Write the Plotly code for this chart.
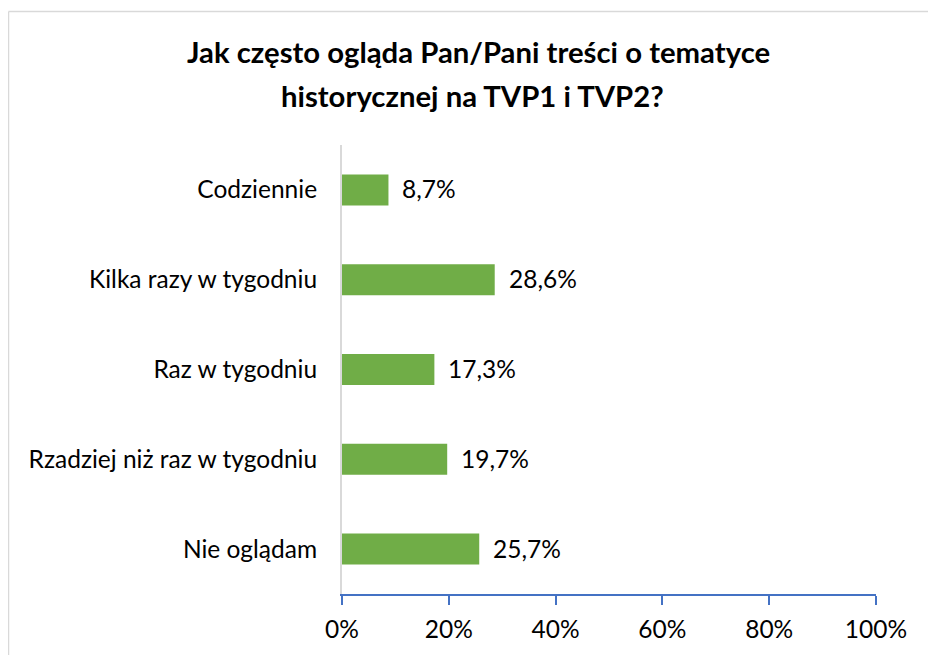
import plotly.graph_objects as go

categories = ["Codziennie", "Kilka razy w tygodniu", "Raz w tygodniu",
              "Rzadziej niż raz w tygodniu", "Nie oglądam"]
values = [8.7, 28.6, 17.3, 19.7, 25.7]
tick_vals = [0, 20, 40, 60, 80, 100]
tick_text = ["0%", "20%", "40%", "60%", "80%", "100%"]
title_lines = ["Jak często ogląda Pan/Pani treści o tematyce",
               "historycznej na TVP1 i TVP2?"]

FONT = "Lato"
FS = 24.5
W, H = 936, 655
OFF = 8  # page body margin
L, T = 342 - OFF, 145 - OFF
R = W - (876 - OFF)
B = H - (594 - OFF)
pw, ph = W - L - R, H - T - B


def px_x(p):
    return (p - OFF - L) / pw


def px_y(p):
    return (H - B - (p - OFF)) / ph


fig = go.Figure()
fig.add_trace(go.Bar(
    x=values, y=categories, orientation="h",
    marker=dict(color="#70AD47", line=dict(width=0)),
    width=0.345,
    hoverinfo="skip",
))

for c, v in zip(categories, values):
    fig.add_annotation(
        x=v, y=c, xref="x", yref="y",
        text=(f"{v:.1f}%").replace(".", ","),
        showarrow=False, xanchor="left", yanchor="middle", xshift=12, yshift=1,
        font=dict(family=FONT, size=FS, color="#000000"),
    )

for line, ypx, xpx in zip(title_lines, [52, 95], [478, 472]):
    fig.add_annotation(
        x=px_x(xpx), y=px_y(ypx), xref="paper", yref="paper",
        text=f"<b>{line}</b>", showarrow=False,
        xanchor="center", yanchor="middle",
        font=dict(family=FONT, size=29.3, color="#000000"),
    )

border = dict(color="#D9D9D9", width=1.5)
fig.add_shape(type="line", xref="paper", yref="paper",
              x0=px_x(8.5), x1=px_x(8.5), y0=px_y(11.5), y1=px_y(H + 20), line=border)
fig.add_shape(type="line", xref="paper", yref="paper",
              x0=px_x(8.5), x1=px_x(W + 20), y0=px_y(11.5), y1=px_y(11.5), line=border)

fig.update_layout(
    width=W, height=H,
    margin=dict(l=L, r=R, t=T, b=B),
    paper_bgcolor="white", plot_bgcolor="white",
    showlegend=False,
    font=dict(family=FONT, size=FS, color="#000000"),
    xaxis=dict(range=[0, 100], tickvals=tick_vals, ticktext=tick_text,
               showgrid=False, zeroline=False,
               showline=True, linecolor="#4472C4", linewidth=2,
               ticks="outside", ticklen=9, tickwidth=2, tickcolor="#4472C4",
               ticklabelstandoff=4,
               tickfont=dict(family=FONT, size=FS, color="#000000"),
               fixedrange=True),
    yaxis=dict(autorange="reversed", showgrid=False, zeroline=False,
               showline=True, linecolor="#D9D9D9", linewidth=2,
               ticks="", ticklabelstandoff=18,
               tickfont=dict(family=FONT, size=FS, color="#000000"),
               fixedrange=True),
)

fig.write_html("out.html")
